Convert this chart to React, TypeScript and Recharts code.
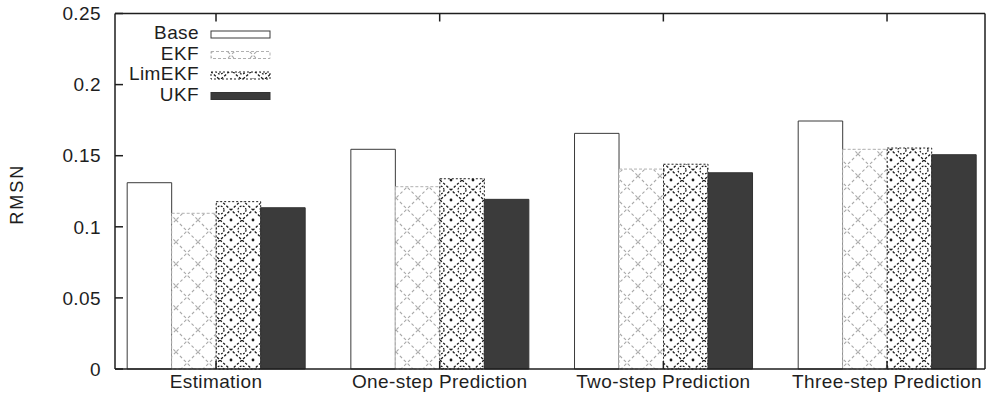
import React from 'react';
import { BarChart, Bar, XAxis, YAxis } from 'recharts';

const categories = ['Estimation', 'One-step Prediction', 'Two-step Prediction', 'Three-step Prediction'];
const seriesNames = ['Base', 'EKF', 'LimEKF', 'UKF'];
const baseValues = [0.131, 0.1545, 0.1657, 0.1744];
const ekfValues = [0.1095, 0.1282, 0.1406, 0.1545];
const limEkfValues = [0.1177, 0.1338, 0.144, 0.1554];
const ukfValues = [0.1134, 0.1193, 0.138, 0.1507];
const yTicks = [0, 0.05, 0.1, 0.15, 0.2, 0.25];
const yTickLabels = ['0', '0.05', '0.1', '0.15', '0.2', '0.25'];
const xTicks = [0, 1, 2, 3];

const seriesValues = [baseValues, ekfValues, limEkfValues, ukfValues];

const data = categories.map((c, i) => {
  const row: Record<string, number | string> = { x: i, name: c };
  seriesNames.forEach((s, k) => {
    row[s] = seriesValues[k][i];
  });
  return row;
});

const seriesStyle: Record<string, { fill: string; stroke: string; dash?: string }> = {
  Base: { fill: '#ffffff', stroke: '#3a3a3a' },
  EKF: { fill: 'url(#patEKF)', stroke: '#b0b0b0', dash: '3 2' },
  LimEKF: { fill: 'url(#patLim)', stroke: '#222222', dash: '2 2' },
  UKF: { fill: '#3b3b3b', stroke: '#333333' },
};

const FONT = '"Liberation Sans", Arial, Helvetica, sans-serif';
const TEXT = '#1e1e1e';
const AX = '#1e1e1e';

const PatternDefs = () => (
  <svg width={0} height={0} style={{ position: 'absolute', left: 0, top: 0 }}>
    <defs>
      <pattern id="patEKF" patternUnits="userSpaceOnUse" width={22} height={22}>
        <rect x={0} y={0} width={22} height={22} fill="#ffffff" />
        <path d="M0 0 L22 22 M22 0 L0 22" stroke="#a8a8a8" strokeWidth={1.1} strokeDasharray="3 2.5" fill="none" />
      </pattern>
      <pattern id="patLim" patternUnits="userSpaceOnUse" width={22} height={20}>
        <rect x={0} y={0} width={22} height={20} fill="#ffffff" />
        <path d="M0 0 L22 20 M22 0 L0 20" stroke="#1a1a1a" strokeWidth={1.3} strokeDasharray="2.5 1.8" fill="none" />
        <circle cx={0} cy={10} r={4} stroke="#1a1a1a" strokeWidth={1.2} strokeDasharray="1.8 1.4" fill="none" />
        <circle cx={22} cy={10} r={4} stroke="#1a1a1a" strokeWidth={1.2} strokeDasharray="1.8 1.4" fill="none" />
        <circle cx={11} cy={0} r={1.4} fill="#1a1a1a" />
        <circle cx={11} cy={20} r={1.4} fill="#1a1a1a" />
      </pattern>
    </defs>
  </svg>
);

const LegendOverlay = () => (
  <svg width={300} height={110} style={{ position: 'absolute', left: 0, top: 0, pointerEvents: 'none' }}>
    {seriesNames.map((s, i) => {
      const st = seriesStyle[s];
      return (
        <g key={s}>
          <text
            x={199}
            y={39 + 20.5 * i}
            textAnchor="end"
            fontFamily={FONT}
            fontSize={19}
            fill={TEXT}
            style={{ letterSpacing: '0.4px' }}
          >
            {s}
          </text>
          <rect
            x={211}
            y={31 + 20.5 * i}
            width={59}
            height={7}
            fill={st.fill}
            stroke={st.stroke}
            strokeWidth={1}
            strokeDasharray={st.dash}
          />
        </g>
      );
    })}
  </svg>
);

export default function App() {
  return (
    <div style={{ position: 'absolute', left: 0, top: 0, width: 986, height: 404, background: '#fff' }}>
      <PatternDefs />
      <BarChart
        width={986}
        height={404}
        data={data}
        margin={{ top: 12.5, right: 0, bottom: 0, left: 0 }}
        barGap={0}
        barSize={44.5}
        style={{ fontFamily: FONT, letterSpacing: '0.4px' }}
      >
        <XAxis
          dataKey="x"
          type="number"
          domain={[-0.4516, 3.438]}
          ticks={xTicks}
          interval={0}
          height={35}
          tickSize={-8}
          tickMargin={14}
          tickFormatter={(v: number) => categories[v] ?? ''}
          axisLine={{ stroke: AX, strokeWidth: 1.5 }}
          tickLine={{ stroke: AX, strokeWidth: 1.5 }}
          tick={{ fill: TEXT, fontSize: 19, fontFamily: FONT }}
        />
        <XAxis
          xAxisId="top"
          dataKey="x"
          type="number"
          orientation="top"
          domain={[-0.4516, 3.438]}
          ticks={xTicks}
          interval={0}
          height={1}
          tickSize={-8}
          tickFormatter={() => ''}
          axisLine={{ stroke: AX, strokeWidth: 1.5 }}
          tickLine={{ stroke: AX, strokeWidth: 1.5 }}
        />
        <YAxis
          type="number"
          domain={[0, 0.25]}
          ticks={yTicks}
          interval={0}
          width={115}
          tickSize={-8}
          tickMargin={22}
          tickFormatter={(v: number) => yTickLabels[yTicks.indexOf(v)] ?? String(v)}
          axisLine={{ stroke: AX, strokeWidth: 1.5 }}
          tickLine={{ stroke: AX, strokeWidth: 1.5 }}
          tick={{ fill: TEXT, fontSize: 19, fontFamily: FONT }}
          label={{
            content: (props: any) => {
              const vb = props.viewBox || { x: 0, y: 13.5, width: 115, height: 355.5 };
              const cx = 17;
              const cy = vb.y + vb.height / 2 + 3;
              return (
                <text
                  x={cx}
                  y={cy}
                  transform={`rotate(-90, ${cx}, ${cy})`}
                  textAnchor="middle"
                  dominantBaseline="central"
                  fontFamily={FONT}
                  fontSize={18}
                  fill={TEXT}
                  style={{ letterSpacing: '2px' }}
                >
                  RMSN
                </text>
              );
            },
          }}
        />
        <YAxis
          yAxisId="right"
          orientation="right"
          type="number"
          domain={[0, 0.25]}
          ticks={yTicks}
          interval={0}
          width={1}
          tickSize={-8}
          tickFormatter={() => ''}
          axisLine={{ stroke: AX, strokeWidth: 1.5 }}
          tickLine={{ stroke: AX, strokeWidth: 1.5 }}
        />
        {seriesNames.map((s) => (
          <Bar
            key={s}
            dataKey={s}
            name={s}
            fill={seriesStyle[s].fill}
            stroke={seriesStyle[s].stroke}
            strokeWidth={1}
            strokeDasharray={seriesStyle[s].dash}
            isAnimationActive={false}
          />
        ))}
      </BarChart>
      <LegendOverlay />
    </div>
  );
}
